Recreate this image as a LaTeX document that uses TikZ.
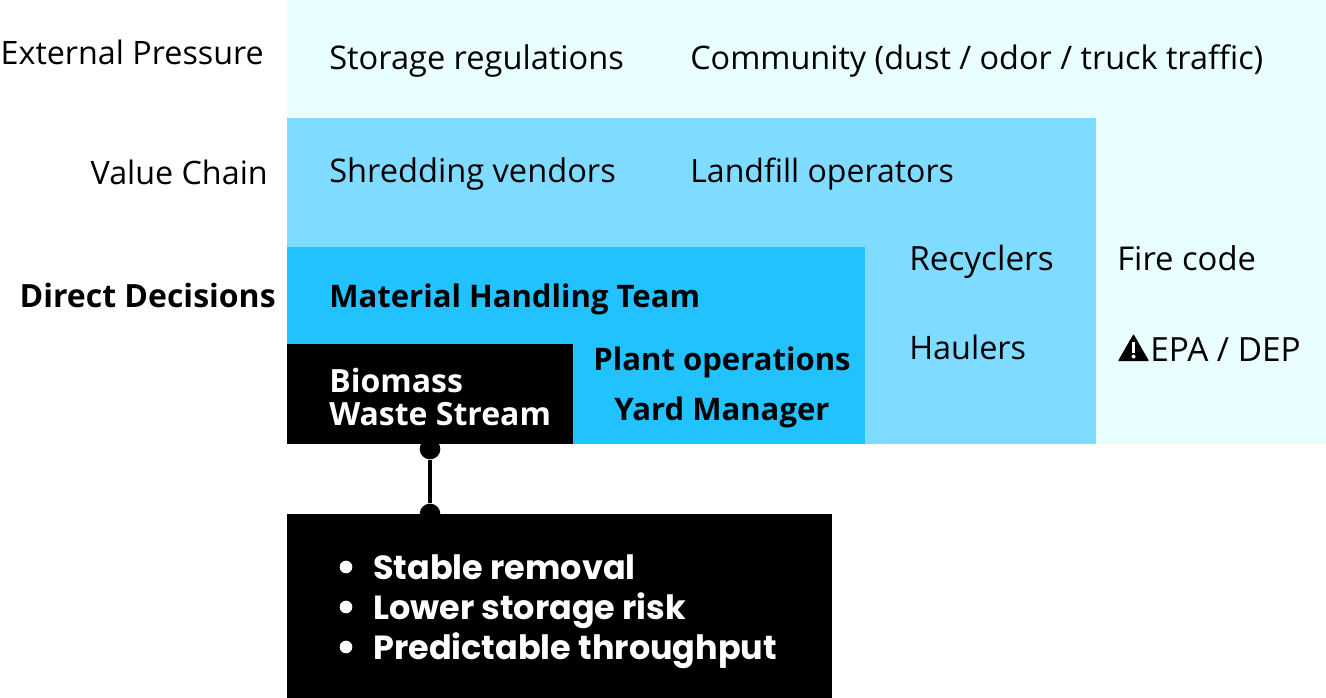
\documentclass[tikz,border=0pt]{standalone}
\usepackage{fontspec}
\setmainfont{Open Sans}
\newfontfamily\popfont{Poppins}
\usetikzlibrary{positioning}
\definecolor{pale}{HTML}{E9FEFF}
\definecolor{sky}{HTML}{7FDBFF}
\definecolor{azure}{HTML}{22C1FF}
\begin{document}
\begin{tikzpicture}[x=0.75pt,y=-0.75pt,
 band/.style={anchor=north west,inner sep=0pt,outer sep=0pt},
 item/.style={anchor=base west,inner sep=0pt,font=\fontsize{24.3}{29}\selectfont},
 lead/.style={anchor=base east,inner sep=0pt,font=\fontsize{24.2}{29}\selectfont},
 heavy/.style={inner sep=0pt,font=\fontsize{23.3}{25}\selectfont\bfseries},
 joint/.style={circle,fill=black,minimum size=15.5pt,inner sep=0pt}]
 \useasboundingbox (0,0) rectangle (1326,698);
 % nested bands
 \node[band,fill=pale,minimum width=779.25pt,minimum height=333pt] (outer) at (287,0) {};
 \node[band,fill=sky,minimum width=606.75pt,minimum height=244.5pt] (chain) at (287,118) {};
 \node[band,fill=azure,minimum width=433.5pt,minimum height=147.75pt] (direct) at (287,247) {};
 \node[band,fill=black,minimum width=214.5pt,minimum height=75pt] (biomass) at (287,344) {};
 \node[band,fill=black,minimum width=408.75pt,minimum height=138pt] (outcomes) at (287,514) {};
 % row labels
 \node[lead] (external) at (264,65) {External Pressure};
 \node[lead] (value) at (268,185) {Value Chain};
 \node[lead,font=\fontsize{24}{29}\selectfont\bfseries] (decisions) at (276,307) {Direct Decisions};
 % outer ring
 \node[item,font=\fontsize{24.45}{29}\selectfont] (storage) at (329,70) {Storage regulations};
 \node[item] (community) at (690,70) {Community (dust / odor / truck traffic)};
 \node[item,font=\fontsize{24.6}{29}\selectfont] (fire) at (1117,271) {Fire code};
 \node[item,font=\fontsize{25}{29}\selectfont] (epa) at (1150,361) {EPA / DEP};
 \fill[black,rounded corners=0.6pt] (1118,361) -- (1133.5,334) -- (1149,361) -- cycle;
 \fill[white] (1132,342) rectangle (1135,353);
 \fill[white] (1133.5,356.5) circle (1.5pt);
 % value chain
 \node[item,font=\fontsize{24.45}{29}\selectfont] (shredding) at (329,183) {Shredding vendors};
 \node[item,font=\fontsize{24.05}{29}\selectfont] (landfill) at (690,183) {Landfill operators};
 \node[item,font=\fontsize{25}{29}\selectfont] (recyclers) at (909,271) {Recyclers};
 \node[item] (haulers) at (909,359) {Haulers};
 % direct decisions
 \node[heavy,anchor=base west] (team) at (329,307) {Material Handling Team};
 \node[heavy,anchor=base] (plant) at (722,370) {Plant operations};
 \node[heavy,anchor=base] (yard) at (722,420) {Yard Manager};
 % center
 \node[heavy,anchor=base west,text=white,font=\fontsize{24}{25}\selectfont\bfseries] (stream1) at (329,392) {Biomass};
 \node[heavy,anchor=base west,text=white,font=\fontsize{24}{25}\selectfont\bfseries] (stream2) at (329,425) {Waste Stream};
 % results
 \node[anchor=north west,inner sep=0pt,text=white,font=\popfont\fontsize{25.1}{30}\selectfont\bfseries,align=left] (results) at (373,554) {Stable removal\\Lower storage risk\\Predictable throughput};
 \foreach \y/\n in {567/one,607/two,647/three}
  \node[circle,fill=white,minimum size=9.5pt,inner sep=0pt] (bullet\n) at (346,\y) {};
 % link
 \node[joint] (top) at (430,449) {};
 \node[joint] (bottom) at (top |- outcomes.north) {};
 \draw[line width=3.2pt] (top) -- (bottom);
\end{tikzpicture}
\end{document}
